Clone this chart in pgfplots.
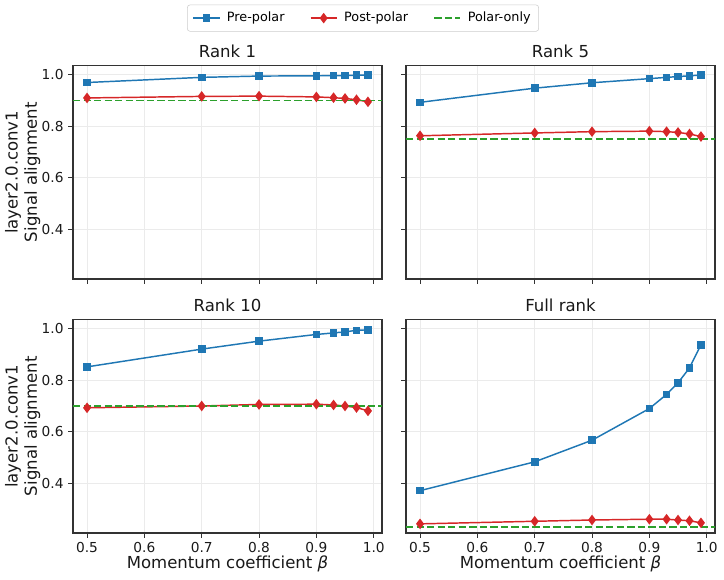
\documentclass[border=0pt]{standalone}
\usepackage{fontspec}
\setmainfont{DejaVu Sans}
\usepackage{pgfplots}
\pgfplotsset{compat=1.18}

\definecolor{tabblue}{HTML}{1F77B4}
\definecolor{tabred}{HTML}{D62728}
\definecolor{tabgreen}{HTML}{2CA02C}
\definecolor{spine}{HTML}{333333}

% Momentum sweep: beta, pre-polar alignment, post-polar alignment
\pgfplotstableread{
beta  pre    post
0.50  0.970  0.910
0.70  0.990  0.916
0.80  0.995  0.917
0.90  0.996  0.914
0.93  0.997  0.911
0.95  0.997  0.908
0.97  0.998  0.903
0.99  0.999  0.895
}\rankone
\pgfplotstableread{
beta  pre    post
0.50  0.893  0.763
0.70  0.948  0.774
0.80  0.969  0.779
0.90  0.985  0.781
0.93  0.990  0.779
0.95  0.993  0.776
0.97  0.996  0.770
0.99  0.999  0.760
}\rankfive
\pgfplotstableread{
beta  pre    post
0.50  0.852  0.693
0.70  0.921  0.700
0.80  0.952  0.706
0.90  0.978  0.707
0.93  0.984  0.704
0.95  0.988  0.700
0.97  0.994  0.694
0.99  0.996  0.681
}\rankten
\pgfplotstableread{
beta  pre    post
0.50  0.371  0.242
0.70  0.483  0.252
0.80  0.567  0.257
0.90  0.690  0.260
0.93  0.745  0.260
0.95  0.790  0.257
0.97  0.848  0.254
0.99  0.938  0.246
}\fullrank

\pgfplotsset{
  panel/.style={
    scale only axis, width=231.75pt, height=160.1pt,
    anchor=south west,
    xmin=0.4755, xmax=1.0145, ymin=0.2065, ymax=1.036,
    xtick={0.5,0.6,0.7,0.8,0.9,1.0},
    ytick={0.4,0.6,0.8,1.0},
    grid=major,
    grid style={line width=0.6pt, color=black!8},
    axis line style={spine, line width=0.8pt},
    tick align=outside, tick pos=left,
    major tick length=3.6pt,
    tick style={spine, line width=0.8pt},
    ticklabel style={font=\fontsize{10.3}{12}\selectfont, color=black!90},
    /pgf/number format/assume math mode=true,
    /pgf/number format/.cd, fixed, fixed zerofill, precision=1, /pgfplots/.cd,
    title style={font=\fontsize{12.4}{14}\selectfont, color=black!90, yshift=-3.5pt},
    label style={font=\fontsize{12.4}{14.5}\selectfont, color=black!90},
    legend image code/.code={%
      \draw[mark repeat=2, mark phase=2, #1]
        plot coordinates {(0pt,0pt) (9.8pt,0pt) (19.6pt,0pt)};},
  },
  notopx/.style={xticklabel=\empty},
  nolefty/.style={yticklabel=\empty},
  leftlabel/.style={
    ylabel={layer2.0.conv1\\Signal alignment},
    ylabel style={align=center, at={(axis description cs:-0.163,0.5)}, anchor=center},
  },
  bottomlabel/.style={
    xlabel={Momentum coefficient \textit{β}},
    xlabel style={at={(axis description cs:0.5,-0.147)}, anchor=center},
  },
  pre/.style={color=tabblue, line width=1.1pt, mark=square*, mark size=2.3pt, mark options={solid}},
  post/.style={color=tabred, line width=1.1pt, mark=diamond*, mark size=3.1pt, mark options={solid}},
  polar/.style={color=tabgreen, line width=1.1pt, dash pattern=on 5.5pt off 2.4pt, no marks},
}

\begin{document}
\begin{tikzpicture}
\path[use as bounding box] (0,0) rectangle (543pt,435pt);

% Rank 1
\begin{axis}[panel, notopx, leftlabel, at={(54.75pt,225.75pt)}, title={Rank 1},
  legend columns=3,
  legend style={at={(0.9385,1.222)}, anchor=center, draw=black!20, rounded corners=2pt,
    font=\fontsize{9.6}{11}\selectfont, inner xsep=4pt, inner ysep=3.5pt,
    /tikz/every odd column/.append style={column sep=3pt},
    /tikz/every even column/.append style={column sep=17pt}},
  legend cell align=left]
  \addplot[pre] table[x=beta, y=pre] {\rankone};
  \addlegendentry{Pre-polar}
  \addplot[post] table[x=beta, y=post] {\rankone};
  \addlegendentry{Post-polar}
  \addplot[polar] coordinates {(0.4755,0.900) (1.0145,0.900)};
  \addlegendentry{Polar-only}
\end{axis}

% Rank 5
\begin{axis}[panel, notopx, nolefty, at={(304.5pt,225.75pt)}, title={Rank 5}]
  \addplot[pre] table[x=beta, y=pre] {\rankfive};
  \addplot[post] table[x=beta, y=post] {\rankfive};
  \addplot[polar] coordinates {(0.4755,0.750) (1.0145,0.750)};
\end{axis}

% Rank 10
\begin{axis}[panel, leftlabel, bottomlabel, at={(54.75pt,35.25pt)}, title={Rank 10}]
  \addplot[pre] table[x=beta, y=pre] {\rankten};
  \addplot[post] table[x=beta, y=post] {\rankten};
  \addplot[polar] coordinates {(0.4755,0.700) (1.0145,0.700)};
\end{axis}

% Full rank
\begin{axis}[panel, nolefty, bottomlabel, at={(304.5pt,35.25pt)}, title={Full rank}]
  \addplot[pre] table[x=beta, y=pre] {\fullrank};
  \addplot[post] table[x=beta, y=post] {\fullrank};
  \addplot[polar] coordinates {(0.4755,0.229) (1.0145,0.229)};
\end{axis}
\end{tikzpicture}
\end{document}
